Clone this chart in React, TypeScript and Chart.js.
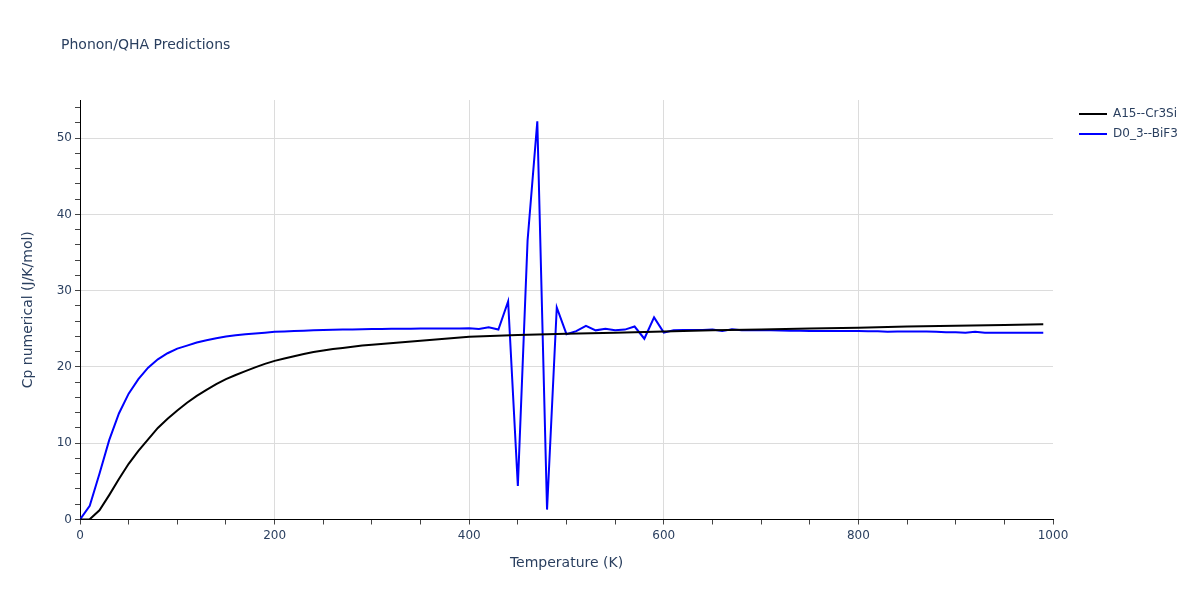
import { useEffect, useRef } from 'react';
import { Chart, registerables } from 'chart.js';

Chart.register(...registerables);

const TITLE = 'Phonon/QHA Predictions';
const X_TITLE = 'Temperature (K)';
const Y_TITLE = 'Cp numerical (J/K/mol)';
const SERIES_NAMES = ['A15--Cr3Si', 'D0_3--BiF3'];
const SERIES_COLORS = ['#000000', '#0000ff'];

const X_TICK_LABELS = [0, 200, 400, 600, 800, 1000];
const Y_TICK_LABELS = [0, 10, 20, 30, 40, 50];

const cr3siT = [
  0, 10, 20, 30, 40, 50, 60, 70, 80, 90,
  100, 110, 120, 130, 140, 150, 160, 170, 180, 190,
  200, 210, 220, 230, 240, 250, 260, 270, 280, 290,
  300, 350, 400, 450, 500, 550, 600, 650, 700, 750,
  800, 850, 900, 950, 990,
];
const cr3siCp = [
  0, 0.03, 1.2, 3.2, 5.3, 7.3, 9.0, 10.5, 12.0, 13.2,
  14.3, 15.3, 16.2, 17.0, 17.75, 18.4, 18.95, 19.45, 19.95, 20.4,
  20.8, 21.1, 21.4, 21.7, 21.95, 22.15, 22.35, 22.5, 22.65, 22.8,
  22.9, 23.45, 23.95, 24.2, 24.35, 24.5, 24.65, 24.8, 24.9, 25.05,
  25.15, 25.3, 25.4, 25.5, 25.6,
];

const bif3T = [
  0, 10, 20, 30, 40, 50, 60, 70, 80, 90,
  100, 110, 120, 130, 140, 150, 160, 170, 180, 190,
  200, 210, 220, 230, 240, 250, 260, 270, 280, 290,
  300, 310, 320, 330, 340, 350, 360, 370, 380, 390,
  400, 410, 420, 430, 440, 450, 460, 470, 480, 490,
  500, 510, 520, 530, 540, 550, 560, 570, 580, 590,
  600, 610, 620, 630, 640, 650, 660, 670, 680, 690,
  700, 710, 720, 730, 740, 750, 760, 770, 780, 790,
  800, 810, 820, 830, 840, 850, 860, 870, 880, 890,
  900, 910, 920, 930, 940, 950, 960, 970, 980, 990,
];
const bif3Cp = [
  0, 1.8, 6.0, 10.4, 13.9, 16.5, 18.4, 19.9, 21.0, 21.8,
  22.4, 22.8, 23.2, 23.5, 23.75, 24.0, 24.15, 24.3, 24.4, 24.5,
  24.6, 24.65, 24.7, 24.75, 24.8, 24.85, 24.88, 24.9, 24.92, 24.94,
  24.96, 24.98, 25.0, 25.0, 25.02, 25.03, 25.03, 25.04, 25.05, 25.05,
  25.06, 24.97, 25.2, 24.9, 28.6, 4.4, 36.6, 52.2, 1.3, 27.8,
  24.3, 24.7, 25.4, 24.8, 25.0, 24.8, 24.9, 25.3, 23.7, 26.5,
  24.5, 24.8, 24.85, 24.85, 24.85, 24.9, 24.7, 24.95, 24.8, 24.8,
  24.8, 24.8, 24.78, 24.75, 24.75, 24.7, 24.7, 24.7, 24.7, 24.7,
  24.7, 24.68, 24.68, 24.6, 24.65, 24.65, 24.65, 24.65, 24.63, 24.55,
  24.55, 24.5, 24.6, 24.5, 24.5, 24.5, 24.5, 24.5, 24.5, 24.5,
];

const TEXT_COLOR = '#2a3f5f';
const GRID_COLOR = '#dcdcdc';
const FONT_FAMILY = '"DejaVu Sans", Verdana, sans-serif';

const placer = {
  id: 'placer',
  afterLayout(chart: any) {
    const t = chart.titleBlock;
    if (t) {
      const w = t.right - t.left;
      t.left = 61;
      t.right = 61 + w;
    }
    const l = chart.legend;
    if (l) {
      const w = l.width;
      const h = l.height;
      l.left = 1071;
      l.right = 1071 + w;
      l.top = 100;
      l.bottom = 100 + h;
    }
  },
};

export default function App() {
  const canvasRef = useRef<HTMLCanvasElement | null>(null);

  useEffect(() => {
    document.body.style.margin = '0';
    const canvas = canvasRef.current;
    if (!canvas) return;
    Chart.defaults.font.family = FONT_FAMILY;

    const chart = new Chart(canvas, {
      type: 'line',
      data: {
        datasets: [
          {
            label: SERIES_NAMES[0],
            data: cr3siT.map((t, i) => ({ x: t, y: cr3siCp[i] })),
            borderColor: SERIES_COLORS[0],
            backgroundColor: SERIES_COLORS[0],
            borderWidth: 2,
            pointRadius: 0,
            tension: 0,
          },
          {
            label: SERIES_NAMES[1],
            data: bif3T.map((t, i) => ({ x: t, y: bif3Cp[i] })),
            borderColor: SERIES_COLORS[1],
            backgroundColor: SERIES_COLORS[1],
            borderWidth: 2,
            pointRadius: 0,
            tension: 0,
          },
        ],
      },
      options: {
        responsive: false,
        animation: false,
        events: [],
        layout: { padding: { left: 0, right: 147, top: 0, bottom: 0 } },
        plugins: {
          title: {
            display: true,
            text: TITLE,
            align: 'start',
            color: TEXT_COLOR,
            font: { size: 14, weight: 'normal', family: FONT_FAMILY },
            padding: { top: 36.6, bottom: 46.6 },
          },
          legend: {
            display: true,
            position: 'chartArea',
            align: 'start',
            labels: {
              usePointStyle: true,
              pointStyle: 'line',
              pointStyleWidth: 28,
              boxHeight: 12,
              padding: 8,
              color: TEXT_COLOR,
              font: { size: 12, family: FONT_FAMILY },
            },
          },
          tooltip: { enabled: false },
        },
        scales: {
          x: {
            type: 'linear',
            min: 0,
            max: 1000,
            afterFit: (scale: any) => {
              scale.height = 80.5;
            },
            ticks: {
              stepSize: 50,
              autoSkip: false,
              maxRotation: 0,
              padding: 4,
              color: TEXT_COLOR,
              font: { size: 12, family: FONT_FAMILY },
              callback: (v: any) => (X_TICK_LABELS.includes(Number(v)) ? String(v) : ''),
            },
            grid: {
              color: (ctx: any) => {
                const v = ctx.tick ? ctx.tick.value : -1;
                return X_TICK_LABELS.includes(v) && v !== 0 && v !== 1000 ? GRID_COLOR : 'rgba(0,0,0,0)';
              },
              tickColor: '#444',
              tickLength: 5,
              lineWidth: 1,
            },
            border: { color: '#000', width: 1 },
            title: {
              display: true,
              text: X_TITLE,
              color: TEXT_COLOR,
              font: { size: 14, family: FONT_FAMILY },
              padding: { top: 0, bottom: 28.6 },
            },
          },
          y: {
            type: 'linear',
            min: 0,
            max: 55,
            afterFit: (scale: any) => {
              scale.width = 80;
            },
            ticks: {
              stepSize: 2,
              includeBounds: false,
              autoSkip: false,
              padding: 3,
              color: TEXT_COLOR,
              font: { size: 12, family: FONT_FAMILY },
              callback: (v: any) => (Y_TICK_LABELS.includes(Number(v)) ? String(v) : ''),
            },
            grid: {
              color: (ctx: any) => {
                const v = ctx.tick ? ctx.tick.value : -1;
                return Y_TICK_LABELS.includes(v) && v !== 0 ? GRID_COLOR : 'rgba(0,0,0,0)';
              },
              tickColor: '#444',
              tickLength: 5,
              lineWidth: 1,
            },
            border: { color: '#000', width: 1 },
            title: {
              display: true,
              text: Y_TITLE,
              color: TEXT_COLOR,
              font: { size: 14, family: FONT_FAMILY },
              padding: { top: 19.6, bottom: 0 },
            },
          },
        },
      },
      plugins: [placer],
    } as any);

    return () => {
      chart.destroy();
    };
  }, []);

  return (
    <div style={{ width: 1200, height: 600, background: '#fff' }}>
      <canvas ref={canvasRef} width={1200} height={600} />
    </div>
  );
}
